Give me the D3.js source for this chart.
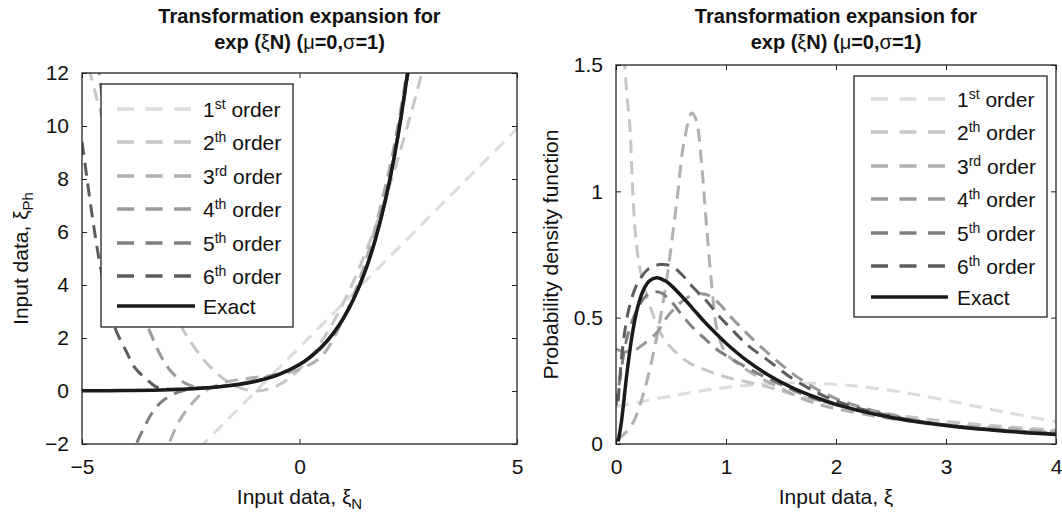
<!DOCTYPE html>
<html>
<head>
<meta charset="utf-8">
<script src="https://cdn.jsdelivr.net/npm/d3@7"></script>
<style>
  body { margin: 0; background: #fff; }
  text { font-family: "Liberation Sans", Arial, sans-serif; fill: #111; }
</style>
</head>
<body>
<svg id="chart" width="1062" height="513"></svg>
<script>
// Legend entries
const orderNums = ["1", "2", "3", "4", "5", "6"];
const orderSups = ["st", "th", "rd", "th", "th", "th"];
const exactLabel = "Exact";

// Left panel: xi_Ph against xi_N
const lx1 = [-3, -2, -1, 0, 1, 2, 3, 4, 5];
const ly1 = [-3.3, -1.65, 0, 1.65, 3.3, 4.95, 6.6, 8.25, 9.9];
const lx2 = [-5.2, -5, -4.75, -4.5, -4, -3.5, -3, -2.5, -2, -1.5, -1, -0.5, 0, 0.5, 1, 1.5, 2, 2.5, 3, 3.2];
const ly2 = [14.5, 13.2, 11.6, 10.1, 7.4, 5.15, 3.3, 1.85, 0.82, 0.21, 0, 0.21, 0.82, 1.85, 3.3, 5.15, 7.4, 10.1, 13.2, 14.5];
const lx3 = [-3.2, -3, -2.75, -2.4, -2.13, -1.8, -1.5, -1, -0.5, 0, 0.5, 1, 1.5, 2, 2.25, 2.5, 2.6];
const ly3 = [-2.6, -1.96, -1.09, -0.34, 0.04, 0.28, 0.4, 0.52, 0.62, 0.82, 1.3, 2.7, 4.8, 7.9, 9.9, 12.3, 13.3];
const lx4 = [-4.7, -4.62, -4.5, -4.3, -4.1, -3.9, -3.7, -3.48, -3.2, -2.98, -2.75, -2.5, -2.2, -1.9, -1.5, -1, -0.5, 0, 0.5, 1, 1.5, 2, 2.25, 2.5, 2.6];
const ly4 = [14, 12.2, 10.6, 8, 5.8, 4.2, 3.1, 2.38, 1.36, 0.79, 0.42, 0.2, 0.12, 0.15, 0.25, 0.42, 0.65, 0.98, 1.62, 2.72, 4.5, 7.6, 9.8, 12.3, 13.5];
const lx5 = [-3.9, -3.74, -3.55, -3.39, -3.2, -3.02, -2.8, -2.5, -2, -1.5, -1, -0.5, 0, 0.5, 1, 1.5, 2, 2.5, 2.6];
const ly5 = [-2.7, -1.96, -1.3, -0.83, -0.45, -0.23, -0.05, 0.08, 0.15, 0.22, 0.37, 0.6, 0.99, 1.65, 2.72, 4.48, 7.35, 12.0, 13.2];
const lx6 = [-5, -4.9, -4.8, -4.7, -4.6, -4.5, -4.4, -4.24, -4, -3.78, -3.5, -3.28, -3, -2.5, -2, -1.5, -1, -0.5, 0, 0.5, 1, 1.5, 2, 2.5, 2.6];
const ly6 = [9.4, 8.2, 7.0, 5.9, 4.9, 4.1, 3.4, 2.38, 1.55, 0.87, 0.42, 0.15, 0.07, 0.09, 0.14, 0.22, 0.37, 0.61, 1.0, 1.65, 2.72, 4.48, 7.39, 12.2, 13.4];
const lxE = [-5, -4, -3, -2, -1.5, -1, -0.5, 0, 0.25, 0.5, 0.75, 1, 1.25, 1.5, 1.75, 2, 2.25, 2.5, 2.6];
const lyE = [0.007, 0.018, 0.05, 0.135, 0.223, 0.368, 0.607, 1, 1.284, 1.649, 2.117, 2.718, 3.49, 4.482, 5.755, 7.389, 9.488, 12.18, 13.46];

// Right panel: probability density of xi
const rx1 = [0, 0.5, 1, 1.5, 1.65, 2, 2.5, 3, 3.5, 4];
const ry1 = [0.147, 0.19, 0.224, 0.241, 0.242, 0.236, 0.212, 0.173, 0.129, 0.088];
const rx2 = [0.06, 0.08, 0.1, 0.127, 0.15, 0.173, 0.2, 0.245, 0.33, 0.43, 0.55, 0.67, 0.8, 1, 1.3, 1.75, 2, 2.5, 3, 3.5, 4];
const ry2 = [1.7, 1.5, 1.38, 1.25, 1.02, 0.85, 0.74, 0.64, 0.52, 0.42, 0.36, 0.32, 0.295, 0.265, 0.235, 0.18, 0.155, 0.118, 0.09, 0.07, 0.055];
const rx3 = [0.01, 0.05, 0.15, 0.25, 0.35, 0.45, 0.55, 0.62, 0.69, 0.73, 0.78, 0.82, 0.87, 0.92, 1, 1.2, 1.5, 1.75, 2, 2.5, 3, 3.5, 4];
const ry3 = [0.02, 0.03, 0.08, 0.2, 0.38, 0.62, 0.95, 1.2, 1.31, 1.28, 1.1, 0.88, 0.63, 0.45, 0.36, 0.29, 0.22, 0.17, 0.14, 0.1, 0.077, 0.062, 0.05];
const rx4 = [0, 0.08, 0.16, 0.25, 0.37, 0.46, 0.55, 0.65, 0.76, 0.86, 0.95, 1.04, 1.22, 1.46, 1.7, 2, 2.5, 3, 3.5, 4];
const ry4 = [0.375, 0.365, 0.37, 0.395, 0.44, 0.5, 0.545, 0.58, 0.595, 0.585, 0.55, 0.505, 0.425, 0.33, 0.25, 0.18, 0.115, 0.075, 0.055, 0.045];
const rx5 = [0, 0.05, 0.1, 0.2, 0.3, 0.4, 0.5, 0.6, 0.7, 0.8, 0.9, 1, 1.2, 1.4, 1.6, 1.8, 2, 2.5, 3, 3.5, 4];
const ry5 = [0.15, 0.3, 0.42, 0.54, 0.595, 0.6, 0.565, 0.51, 0.46, 0.42, 0.38, 0.35, 0.3, 0.255, 0.215, 0.18, 0.155, 0.105, 0.075, 0.055, 0.04];
const rx6 = [0.02, 0.06, 0.12, 0.2, 0.3, 0.4, 0.5, 0.6, 0.7, 0.815, 0.93, 1.06, 1.2, 1.37, 1.6, 1.8, 2, 2.5, 3, 3.5, 4];
const ry6 = [0.17, 0.38, 0.54, 0.64, 0.695, 0.71, 0.705, 0.67, 0.62, 0.57, 0.51, 0.45, 0.39, 0.335, 0.26, 0.21, 0.17, 0.11, 0.075, 0.053, 0.04];
const rxE = [0.02, 0.05, 0.1, 0.15, 0.2, 0.25, 0.3, 0.37, 0.45, 0.5, 0.6, 0.7, 0.8, 0.9, 1, 1.2, 1.4, 1.6, 1.8, 2, 2.25, 2.5, 2.75, 3, 3.25, 3.5, 3.75, 4];
const ryE = [0.01, 0.09, 0.282, 0.44, 0.546, 0.61, 0.644, 0.658, 0.645, 0.628, 0.584, 0.535, 0.486, 0.441, 0.399, 0.327, 0.269, 0.223, 0.187, 0.157, 0.128, 0.105, 0.087, 0.073, 0.061, 0.052, 0.044, 0.038];

// Ticks
const leftXTicks = [-5, 0, 5];
const leftYTicks = [-2, 0, 2, 4, 6, 8, 10, 12];
const rightXTicks = [0, 1, 2, 3, 4];
const rightYTicks = [0, 0.5, 1, 1.5];

const colors = ["#dcdcdc", "#c6c6c6", "#b0b0b0", "#999999", "#7f7f7f", "#5c5c5c", "#1a1a1a"];
const fontSize = 21;

const svg = d3.select("#chart");

function drawPanel(cfg) {
  const x = d3.scaleLinear().domain(cfg.xDomain).range([cfg.left, cfg.right]);
  const y = d3.scaleLinear().domain(cfg.yDomain).range([cfg.bottom, cfg.top]);
  const g = svg.append("g");

  g.append("clipPath").attr("id", cfg.id + "-clip")
    .append("rect")
    .attr("x", cfg.left).attr("y", cfg.top)
    .attr("width", cfg.right - cfg.left).attr("height", cfg.bottom - cfg.top);

  const line = d3.line()
    .x((d) => x(d[0]))
    .y((d) => y(d[1]))
    .curve(d3.curveCatmullRom.alpha(0.5));

  const curves = g.append("g").attr("clip-path", `url(#${cfg.id}-clip)`);
  cfg.series.forEach((s, i) => {
    curves.append("path")
      .datum(d3.zip(s[0], s[1]))
      .attr("d", line)
      .attr("fill", "none")
      .attr("stroke", colors[i])
      .attr("stroke-width", i === 6 ? 3.5 : 3)
      .attr("stroke-dasharray", i === 6 ? null : "13,8");
  });

  // Axes with inward ticks
  const fmt = d3.format("~g");
  const axes = [
    [d3.axisBottom(x).tickValues(cfg.xTicks).tickFormat(fmt), `translate(0,${cfg.bottom})`, 15],
    [d3.axisTop(x).tickValues(cfg.xTicks).tickFormat(""), `translate(0,${cfg.top})`, 3],
    [d3.axisLeft(y).tickValues(cfg.yTicks).tickFormat(fmt), `translate(${cfg.left},0)`, 13],
    [d3.axisRight(y).tickValues(cfg.yTicks).tickFormat(""), `translate(${cfg.right},0)`, 3],
  ];
  axes.forEach(([ax, tr, pad]) => {
    const a = g.append("g").attr("transform", tr)
      .call(ax.tickSizeInner(-5).tickSizeOuter(0).tickPadding(pad));
    a.select(".domain").remove();
    a.selectAll(".tick line").attr("stroke", "#222");
    a.selectAll(".tick text").attr("font-size", fontSize).attr("fill", "#111")
      .style("font-family", '"Liberation Sans", Arial, sans-serif');
  });
  g.append("rect")
    .attr("x", cfg.left).attr("y", cfg.top)
    .attr("width", cfg.right - cfg.left).attr("height", cfg.bottom - cfg.top)
    .attr("fill", "none").attr("stroke", "#222").attr("stroke-width", 1.3);

  // Title
  const cx = (cfg.left + cfg.right) / 2;
  g.append("text").attr("x", cx).attr("y", cfg.titleY)
    .attr("text-anchor", "middle").attr("font-size", 20).attr("font-weight", "bold")
    .text("Transformation expansion for");
  const t2 = g.append("text").attr("x", cx).attr("y", cfg.titleY + 26)
    .attr("text-anchor", "middle").attr("font-size", 20).attr("font-weight", "bold");
  t2.append("tspan").text("exp (");
  t2.append("tspan").attr("font-weight", "normal").text("ξ");
  t2.append("tspan").text("N) (");
  t2.append("tspan").attr("font-weight", "normal").text("μ");
  t2.append("tspan").text("=0,");
  t2.append("tspan").attr("font-weight", "normal").text("σ");
  t2.append("tspan").text("=1)");

  // Axis labels
  const xl = g.append("text").attr("x", cx).attr("y", 504)
    .attr("text-anchor", "middle").attr("font-size", fontSize);
  xl.append("tspan").text("Input data, ξ");
  if (cfg.xSub) xl.append("tspan").attr("font-size", 15).attr("dy", 5).text(cfg.xSub);

  const cy = (cfg.top + cfg.bottom) / 2;
  const yl = g.append("text")
    .attr("transform", `translate(${cfg.yLabelX},${cy}) rotate(-90)`)
    .attr("text-anchor", "middle").attr("font-size", fontSize);
  yl.append("tspan").text(cfg.yLabel);
  if (cfg.ySub) yl.append("tspan").attr("font-size", 15).attr("dy", 5).text(cfg.ySub);

  // Legend
  const L = cfg.legend;
  const lg = g.append("g");
  lg.append("rect")
    .attr("x", L.x0).attr("y", L.y0)
    .attr("width", L.x1 - L.x0).attr("height", L.y1 - L.y0)
    .attr("fill", "#fff").attr("stroke", "#222").attr("stroke-width", 1.3);
  L.rows.forEach((ry, i) => {
    lg.append("line")
      .attr("x1", L.lineX0).attr("x2", L.lineX1)
      .attr("y1", ry).attr("y2", ry)
      .attr("stroke", colors[i])
      .attr("stroke-width", 3.5)
      .attr("stroke-dasharray", i === 6 ? null : "17,11.5");
    const t = lg.append("text").attr("x", L.textX).attr("y", ry + 8).attr("font-size", fontSize);
    if (i < 6) {
      t.append("tspan").text(orderNums[i]);
      t.append("tspan").attr("font-size", 14).attr("dy", -8).text(orderSups[i]);
      t.append("tspan").attr("dy", 8).text(" order");
    } else {
      t.text(exactLabel);
    }
  });
}

drawPanel({
  id: "left",
  left: 82, right: 517, top: 73, bottom: 444,
  xDomain: [-5, 5], yDomain: [-2, 12],
  xTicks: leftXTicks, yTicks: leftYTicks,
  titleY: 23,
  xSub: "N", yLabel: "Input data, ξ", ySub: "Ph", yLabelX: 28,
  series: [[lx1, ly1], [lx2, ly2], [lx3, ly3], [lx4, ly4], [lx5, ly5], [lx6, ly6], [lxE, lyE]],
  legend: {
    x0: 101, y0: 84, x1: 293, y1: 327,
    lineX0: 117, lineX1: 195, textX: 203,
    rows: [109, 142, 176, 209, 243, 276, 306],
  },
});

drawPanel({
  id: "right",
  left: 616, right: 1056, top: 65, bottom: 444,
  xDomain: [0, 4], yDomain: [0, 1.5],
  xTicks: rightXTicks, yTicks: rightYTicks,
  titleY: 23,
  xSub: null, yLabel: "Probability density function", ySub: null, yLabelX: 558,
  series: [[rx1, ry1], [rx2, ry2], [rx3, ry3], [rx4, ry4], [rx5, ry5], [rx6, ry6], [rxE, ryE]],
  legend: {
    x0: 854, y0: 76, x1: 1047, y1: 317,
    lineX0: 871, lineX1: 948, textX: 957,
    rows: [99, 132, 166, 199, 233, 266, 297],
  },
});
</script>
</body>
</html>
